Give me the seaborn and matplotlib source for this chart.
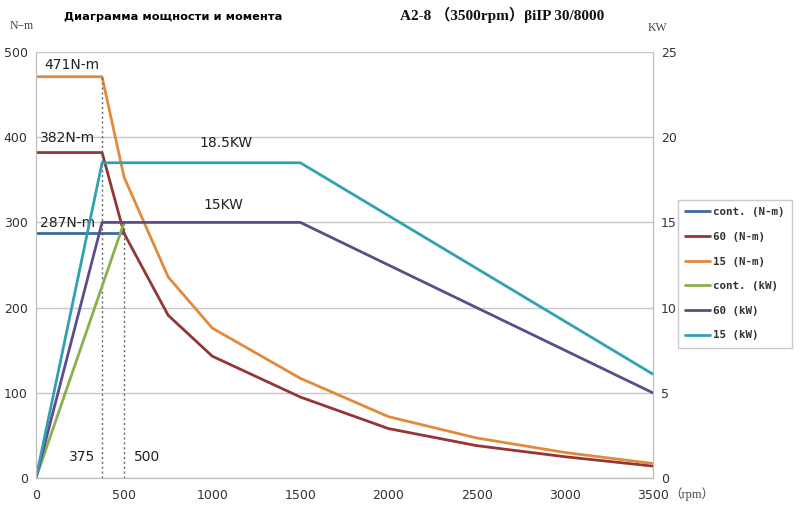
import numpy as np
import pandas as pd
import matplotlib
matplotlib.use("Agg")
import matplotlib.pyplot as plt
import seaborn as sns

# torque curves (N-m)
rpm_torque = [0, 375, 500, 750, 1000, 1500, 2000, 2500, 3000, 3500]
torque_60 = [382, 382, 287, 191, 143, 95, 58, 38, 25, 14]
torque_15 = [471, 471, 353, 236, 176, 117, 72, 47, 30, 17]
rpm_cont = [0, 500]
torque_cont = [287, 287]

# power curves (kW)
power_cont = [0, 15]
rpm_power = [0, 375, 1500, 3500]
power_60 = [0, 15, 15, 5]
power_15 = [0, 18.5, 18.5, 6.1]

colors = {
    "cont. (N-m)": "#3F6A9A",
    "60 (N-m)": "#943634",
    "15 (N-m)": "#E2893B",
    "cont. (kW)": "#8BAE4E",
    "60 (kW)": "#5F4B8B",
    "15 (kW)": "#31A0B5",
}

sns.set_style("white")
plt.rcParams["font.family"] = ["DejaVu Sans"]

fig = plt.figure(figsize=(8, 5.12), dpi=100)
ax = fig.add_axes([0.045, 0.0664, 0.771, 0.8320])
ax2 = ax.twinx()

df_cont = pd.DataFrame({"rpm": rpm_cont, "val": torque_cont})
df_t60 = pd.DataFrame({"rpm": rpm_torque, "val": torque_60})
df_t15 = pd.DataFrame({"rpm": rpm_torque, "val": torque_15})
df_pc = pd.DataFrame({"rpm": rpm_cont, "val": power_cont})
df_p60 = pd.DataFrame({"rpm": rpm_power, "val": power_60})
df_p15 = pd.DataFrame({"rpm": rpm_power, "val": power_15})

lw = 2.0
sns.lineplot(data=df_cont, x="rpm", y="val", ax=ax, color=colors["cont. (N-m)"], lw=lw, label="cont. (N-m)", legend=False)
sns.lineplot(data=df_t60, x="rpm", y="val", ax=ax, color=colors["60 (N-m)"], lw=lw, label="60 (N-m)", legend=False)
sns.lineplot(data=df_t15, x="rpm", y="val", ax=ax, color=colors["15 (N-m)"], lw=lw, label="15 (N-m)", legend=False)
sns.lineplot(data=df_pc, x="rpm", y="val", ax=ax2, color=colors["cont. (kW)"], lw=lw, label="cont. (kW)", legend=False)
sns.lineplot(data=df_p60, x="rpm", y="val", ax=ax2, color=colors["60 (kW)"], lw=lw, label="60 (kW)", legend=False)
sns.lineplot(data=df_p15, x="rpm", y="val", ax=ax2, color=colors["15 (kW)"], lw=lw, label="15 (kW)", legend=False)

# dotted markers at base speeds
ax.plot([375, 375], [0, torque_15[1]], ls=(0, (1.5, 2)), color="#666666", lw=1)
ax.plot([500, 500], [0, 300], ls=(0, (1.5, 2)), color="#666666", lw=1)

ax.set_xlim(0, 3500)
ax.set_ylim(0, 500)
ax2.set_ylim(0, 25)
ax.set_xlabel("")
ax.set_ylabel("")
ax2.set_ylabel("")

ax.set_xticks(range(0, 3501, 500))
ax.set_xticks(range(0, 3501, 100), minor=True)
ax.set_yticks(range(0, 501, 100))
ax2.set_yticks(range(0, 26, 5))
ax.yaxis.grid(True, color="#C8C8C8", lw=1)
ax.set_axisbelow(True)

for a in (ax, ax2):
    for s in a.spines.values():
        s.set_color("#BDBDBD")
    a.spines["top"].set_visible(False)

ax.tick_params(axis="x", which="both", direction="in", length=4, color="#BDBDBD",
               labelsize=9, labelcolor="#333333", pad=8)
ax.tick_params(axis="y", length=0, labelsize=9, labelcolor="#333333", pad=6)
ax2.tick_params(axis="y", length=0, labelsize=9, labelcolor="#333333", pad=6)

# annotations
txt = dict(fontsize=10, color="#222222")
ax.text(45, 480, "471N-m", **txt)
ax.text(20, 394, "382N-m", **txt)
ax.text(20, 295, "287N-m", **txt)
ax.text(930, 388, "18.5KW", **txt)
ax.text(950, 316, "15KW", **txt)
ax.text(185, 20, "375", **txt)
ax.text(555, 20, "500", **txt)

fig.text(0.08, 0.966, "Диаграмма мощности и момента", fontsize=8.2, fontweight="bold", color="black", va="center")
fig.text(0.50, 0.970, "A2-8 （3500rpm）βiIP 30/8000", fontsize=11, fontweight="bold",
         family=["Liberation Serif", "Noto Sans CJK SC"], color="#111111", va="center")
fig.text(0.012, 0.950, "N−m", fontsize=8.5, family="Liberation Serif", color="#444444", va="center")
fig.text(0.81, 0.945, "KW", fontsize=8.5, family="Liberation Serif", color="#444444", va="center")
fig.text(0.837, 0.035, "（rpm）", fontsize=9, family=["Liberation Serif", "Noto Sans CJK SC"], color="#444444", va="center")

h1, l1 = ax.get_legend_handles_labels()
h2, l2 = ax2.get_legend_handles_labels()
h1 = [h for h, l in zip(h1, l1) if l in colors]
l1 = [l for l in l1 if l in colors]
leg = fig.legend(h1 + h2, l1 + l2, loc="upper left", bbox_to_anchor=(0.847, 0.610),
                 frameon=True, fancybox=False, prop={"family": "DejaVu Sans Mono", "size": 7.8, "weight": "bold"},
                 handlelength=2.3, labelspacing=1.35, borderpad=0.7, handletextpad=0.3, borderaxespad=0)
leg.get_frame().set_edgecolor("#BDBDBD")
leg.get_frame().set_linewidth(1)
for t in leg.get_texts():
    t.set_color("#333333")

fig.savefig("out.png", dpi=100)
